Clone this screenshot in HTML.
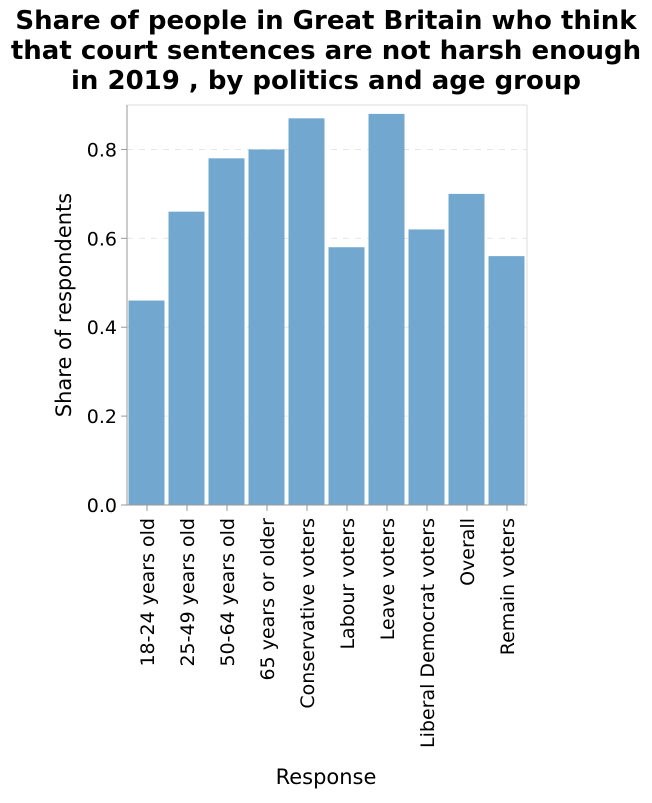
<!DOCTYPE html>
<html><head><meta charset="utf-8"><style>
body{margin:0;background:#fff;}
svg text{font-family:"DejaVu Sans","Liberation Sans",sans-serif;}
</style></head><body>
<svg id="c" width="652" height="798">
<text x="326" y="29" text-anchor="middle" font-size="26" font-weight="bold">Share of people in Great Britain who think</text>
<text x="326" y="59" text-anchor="middle" font-size="26" font-weight="bold">that court sentences are not harsh enough</text>
<text x="326" y="89" text-anchor="middle" font-size="26" font-weight="bold">in 2019 , by politics and age group</text>
<g id="plot"></g>
</svg>
<script>
const categories=["18-24 years old","25-49 years old","50-64 years old","65 years or older","Conservative voters","Labour voters","Leave voters","Liberal Democrat voters","Overall","Remain voters"];
const values=[0.46,0.66,0.78,0.80,0.87,0.58,0.88,0.62,0.70,0.56];
const ticks=[0,0.2,0.4,0.6,0.8];
const tickLabels=["0.0","0.2","0.4","0.6","0.8"];
const NS="http://www.w3.org/2000/svg";
const g=document.getElementById('plot');
const X0=127,X1=527,Y0=505,Y1=105,DMAX=0.9;
const y=v=>Y0-(v/DMAX)*(Y0-Y1);
const bw=(X1-X0)/categories.length;
const x=i=>X0+i*bw;
function el(t,a){const e=document.createElementNS(NS,t);for(const k in a)e.setAttribute(k,a[k]);g.appendChild(e);return e;}
let e=el('line',{x1:X0,y1:Y1,x2:X1,y2:Y1,stroke:'#ddd'});


e=el('line',{x1:X1,y1:Y1,x2:X1,y2:Y0,stroke:'#ddd'});


ticks.forEach((t,i)=>{
  if(t>0){e=el('line',{x1:X0,y1:y(t),x2:X1,y2:y(t),stroke:'#e6e6e6','stroke-dasharray':'6,6'});
  
  }
  e=el('line',{x1:X0-6,y1:y(t),x2:X0,y2:y(t),stroke:'#999'});
  
  
  e=el('text',{x:X0-10,y:y(t)+7,'text-anchor':'end','font-size':19,fill:'#000'});
  e.textContent=tickLabels[i];
  
  
});
values.forEach((v,i)=>{
  e=el('rect',{x:x(i)+1.5,y:y(v),width:bw-4,height:Y0-y(v),fill:'#72a8cf'});
  
  
  const cx=x(i)+bw/2;
  e=el('line',{x1:cx,y1:Y0,x2:cx,y2:Y0+6,stroke:'#999'});
  
  
  e=el('text',{x:cx+7,y:Y0+13,'text-anchor':'end','font-size':19,transform:`rotate(-90 ${cx+7} ${Y0+13})`});
  e.textContent=categories[i];
  
  
});
e=el('line',{x1:X0,y1:Y1,x2:X0,y2:Y0,stroke:'#999'});


e=el('line',{x1:X0,y1:Y0,x2:X1,y2:Y0,stroke:'#999'});


e=el('text',{x:71,y:305,'text-anchor':'middle','font-size':21,transform:'rotate(-90 71 305)'});
e.textContent='Share of respondents';


e=el('text',{x:326,y:784,'text-anchor':'middle','font-size':21});
e.textContent='Response';


</script>
</body></html>
